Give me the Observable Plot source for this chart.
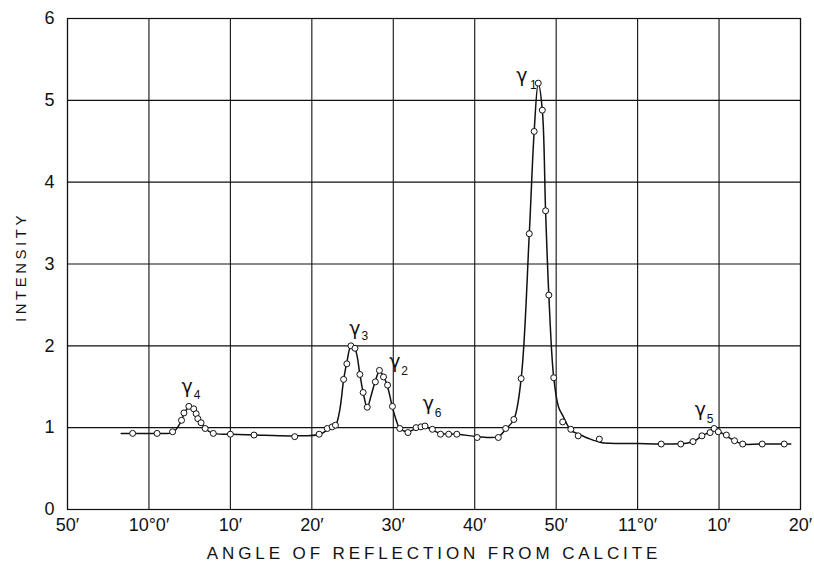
<!DOCTYPE html>
<html>
<head>
<meta charset="utf-8">
<script src="https://cdn.jsdelivr.net/npm/d3@7"></script>
<script src="https://cdn.jsdelivr.net/npm/@observablehq/plot@0.6"></script>
<style>
  html, body { margin: 0; padding: 0; background: #fff; }
  #chart svg { display: block; }
</style>
</head>
<body>
<div id="chart"></div>
<script>
// Angle in minutes of arc past 10°0′ (negative = 9°50′…)
const pointAngle = [-2.0, 1.0, 2.9, 4.0, 4.3, 4.9, 5.5, 5.8, 6.0, 6.4, 6.9, 7.9, 10.0, 12.9, 17.9,
  20.9, 21.9, 22.5, 22.9, 23.9, 24.3, 24.8, 25.3, 25.9, 26.3, 26.8, 27.8, 28.3, 28.8, 29.3, 29.9,
  30.8, 31.8, 32.8, 33.4, 33.9, 34.8, 35.8, 36.8, 37.8, 40.3, 42.9, 43.8, 44.8, 45.7, 46.7, 47.3,
  47.8, 48.3, 48.7, 49.1, 49.7, 50.8, 51.8, 52.7, 55.3, 62.9, 65.3, 66.8, 67.9, 68.9, 69.4, 69.9,
  70.9, 71.9, 72.9, 75.3, 78.0];
const pointIntensity = [0.93, 0.93, 0.95, 1.09, 1.18, 1.26, 1.23, 1.17, 1.11, 1.06, 0.99, 0.93, 0.92, 0.91, 0.89,
  0.92, 0.99, 1.01, 1.03, 1.59, 1.78, 2.00, 1.97, 1.65, 1.43, 1.25, 1.56, 1.70, 1.62, 1.52, 1.26,
  0.99, 0.94, 1.00, 1.01, 1.02, 0.98, 0.92, 0.92, 0.92, 0.88, 0.88, 0.99, 1.10, 1.60, 3.37, 4.62,
  5.21, 4.88, 3.65, 2.62, 1.61, 1.07, 0.98, 0.90, 0.86, 0.80, 0.80, 0.83, 0.90, 0.94, 0.99, 0.95,
  0.91, 0.84, 0.80, 0.80, 0.80];

// Hand-drawn smooth curve
const curveAngle = [-3.4, -2.0, 1.0, 2.9, 3.5, 4.0, 4.4, 4.9, 5.5, 6.0, 6.5, 7.0, 7.9, 10.0, 13.0, 18.0,
  21.0, 22.0, 22.9, 23.4, 23.9, 24.3, 24.8, 25.3, 25.9, 26.3, 26.8, 27.3, 27.8, 28.3, 28.8, 29.3, 29.9,
  30.4, 30.8, 31.8, 32.8, 33.9, 34.8, 35.8, 38.0, 40.3, 42.9, 43.8, 44.8, 45.7, 46.7, 47.3, 47.8, 48.3,
  48.7, 49.1, 49.7, 50.3, 50.8, 51.8, 52.8, 54.2, 55.5, 56.5, 60.0, 63.0, 66.0, 67.0, 67.9, 68.9, 69.4,
  69.9, 70.9, 71.9, 72.9, 75.0, 78.8];
const curveIntensity = [0.93, 0.93, 0.93, 0.94, 1.00, 1.09, 1.19, 1.25, 1.23, 1.13, 1.05, 0.98, 0.93, 0.92, 0.91, 0.90,
  0.92, 0.98, 1.03, 1.20, 1.58, 1.80, 1.99, 1.96, 1.65, 1.43, 1.25, 1.40, 1.57, 1.69, 1.63, 1.50, 1.25,
  1.08, 0.99, 0.95, 0.99, 1.01, 0.97, 0.93, 0.92, 0.89, 0.89, 0.98, 1.10, 1.60, 3.37, 4.62, 5.21, 4.88,
  3.65, 2.62, 1.61, 1.25, 1.15, 0.97, 0.92, 0.86, 0.82, 0.81, 0.805, 0.80, 0.81, 0.84, 0.90, 0.95, 0.99,
  0.96, 0.90, 0.84, 0.80, 0.80, 0.80];

// Peak labels (γ with subscript)
const peakSub = ["1", "2", "3", "4", "5", "6"];
const peakAngle = [45.8, 30.2, 25.3, 4.7, 67.7, 34.3];
const peakIntensity = [5.30, 1.80, 2.21, 1.50, 1.22, 1.29];
const subAngle = [47.2, 31.4, 26.5, 5.9, 68.9, 35.5];
const subIntensity = [5.19, 1.69, 2.12, 1.40, 1.11, 1.18];

const xTicks = [-10, 0, 10, 20, 30, 40, 50, 60, 70, 80];
const xTickLabels = ["50′", "10°0′", "10′", "20′", "30′", "40′", "50′", "11°0′", "10′", "20′"];
const yTicks = [0, 1, 2, 3, 4, 5, 6];
const yTickLabels = ["0", "1", "2", "3", "4", "5", "6"];
const xTitle = "ANGLE OF REFLECTION FROM CALCITE";
const yTitle = "INTENSITY";

const points = pointAngle.map((a, i) => ({angle: a, intensity: pointIntensity[i]}));
const curve = curveAngle.map((a, i) => ({angle: a, intensity: curveIntensity[i]}));
const peaks = peakSub.map((s, i) => ({sub: s, x: peakAngle[i], y: peakIntensity[i], sx: subAngle[i], sy: subIntensity[i]}));

const FONT = "'Liberation Sans', Arial, sans-serif";

const chart = Plot.plot({
  width: 814,
  height: 569,
  marginLeft: 67,
  marginRight: 14,
  marginTop: 18,
  marginBottom: 60,
  style: {fontFamily: FONT, fontSize: "18px", color: "#111", background: "#fff"},
  x: {domain: [-10, 80], ticks: xTicks},
  y: {domain: [0, 6], ticks: yTicks},
  marks: [
    Plot.gridX(xTicks, {stroke: "#111", strokeOpacity: 1, strokeWidth: 1.1}),
    Plot.gridY(yTicks, {stroke: "#111", strokeOpacity: 1, strokeWidth: 1.1}),
    Plot.frame({stroke: "#111", strokeWidth: 1.2}),
    Plot.line(curve, {x: "angle", y: "intensity", curve: "catmull-rom", stroke: "#111", strokeWidth: 1.5}),
    Plot.dot(points, {x: "angle", y: "intensity", r: 3, fill: "white", stroke: "#111", strokeWidth: 1}),
    Plot.text(peaks, {x: "x", y: "y", text: () => "γ", fontSize: 19, fontFamily: "'DejaVu Sans', sans-serif", fill: "#111"}),
    Plot.text(peaks, {x: "sx", y: "sy", text: "sub", fontSize: 12, fill: "#111"}),
    Plot.axisX(xTicks, {tickSize: 0, tickPadding: 9, tickFormat: (d) => xTickLabels[xTicks.indexOf(d)], label: null, fontSize: 18}),
    Plot.axisY(yTicks, {tickSize: 0, tickPadding: 13, tickFormat: (d) => yTickLabels[yTicks.indexOf(d)], label: null, fontSize: 18}),
    Plot.text([xTitle], {frameAnchor: "bottom", dy: 49, text: (d) => d, fontSize: 17, fill: "#111"}),
    Plot.text([yTitle], {frameAnchor: "left", dx: -46, dy: 3, rotate: -90, textAnchor: "middle", text: (d) => d, fontSize: 15, fill: "#111"})
  ]
});

d3.select(chart).selectAll("text").each(function() {
  const t = this.textContent;
  if (t === xTitle) this.setAttribute("letter-spacing", "3.9px");
  if (t === yTitle) this.setAttribute("letter-spacing", "3.5px");
});

document.getElementById("chart").appendChild(chart);
</script>
</body>
</html>
